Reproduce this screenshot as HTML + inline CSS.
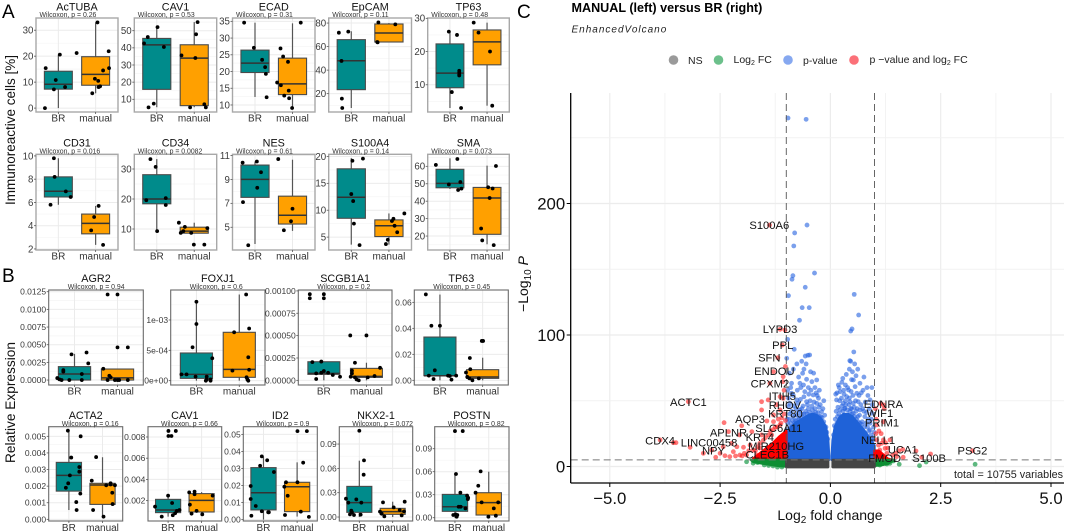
<!DOCTYPE html>
<html lang="en">
<head>
<meta charset="utf-8">
<title>Immunoreactive cells, relative expression and volcano plot</title>
<style>
html,body{margin:0;padding:0;background:#fff}
svg{display:block;font-family:"Liberation Sans",sans-serif}
</style>
</head>
<body>
<svg id="figure" xmlns="http://www.w3.org/2000/svg" width="1065" height="532" viewBox="0 0 1065 532">
  <rect x="0" y="0" width="1065" height="532" fill="#fff"/>
  <text x="2" y="18" font-size="19" fill="#000">A</text>
  <text x="2" y="282" font-size="19" fill="#000">B</text>
  <text x="517" y="18" font-size="19" fill="#000">C</text>
  <text transform="translate(15,130) rotate(-90)" text-anchor="middle" font-size="13.5" fill="#111">Immunoreactive cells [%]</text>
  <text transform="translate(15,402.5) rotate(-90)" text-anchor="middle" font-size="13.7" fill="#111">Relative Expression</text>
  <g id="boxplots"></g>
  <g id="volcano"></g>
  <text x="571.5" y="12" font-size="12.6" font-weight="bold" fill="#000">MANUAL (left) versus BR (right)</text>
  <text x="571.5" y="32.5" font-size="10" font-style="italic" letter-spacing="1" fill="#222">EnhancedVolcano</text>
  <g font-size="10.5" fill="#222">
    <circle cx="673.5" cy="60" r="4.8" fill="#9a9a9a"/>
    <text x="688" y="64">NS</text>
    <circle cx="718.5" cy="60" r="4.8" fill="#6cc08b"/>
    <text x="733.5" y="63">Log<tspan font-size="7" dy="2">2</tspan><tspan dy="-2"> FC</tspan></text>
    <circle cx="788" cy="60" r="4.8" fill="#86a8f0"/>
    <text x="803" y="64">p-value</text>
    <circle cx="854" cy="60" r="4.8" fill="#fb7078"/>
    <text x="869.5" y="63">p −value and log<tspan font-size="7" dy="2">2</tspan><tspan dy="-2"> FC</tspan></text>
  </g>
  <text transform="translate(528,284) rotate(-90)" text-anchor="middle" font-size="14" fill="#111">−Log<tspan font-size="10" dy="3">10</tspan><tspan dy="-3" font-style="italic"> P</tspan></text>
  <text x="830" y="520" text-anchor="middle" font-size="14" fill="#111">Log<tspan font-size="10" dy="3">2</tspan><tspan dy="-3"> fold change</tspan></text>
  <text x="1063" y="478" text-anchor="end" font-size="10.8" fill="#222">total = 10755 variables</text>
</svg>
<script>
/* ---------- box plot data ---------- */
const categories = ['BR', 'manual'];
const panelNames = ['AcTUBA','CAV1','ECAD','EpCAM','TP63','CD31','CD34','NES','S100A4','SMA','AGR2','FOXJ1','SCGB1A1','TP63','ACTA2','CAV1','ID2','NKX2-1','POSTN'];
const pValues = ['0.26','0.53','0.31','0.11','0.48','0.016','0.0082','0.61','0.14','0.073','0.94','0.6','0.2','0.45','0.16','0.66','0.9','0.072','0.82'];
const yDomains = [[-1.5,34.7],[2.6,57.4],[7.9,36],[4.4,84.3],[1.8,30.1],[1.91,10.14],[3,34.9],[3.1,11.1],[2.6,20.4],[12,66.9],
  [-0.0007,0.01274],[-0.0000714,0.001494],[-0.000052,0.00101],[-0.0036,0.0695],[-0.0001,0.00558],[0.00008,0.00897],[-0.0008,0.0545],[-0.0049,0.1114],[-0.0043,0.1187]];
const tickValues = [[0,10,20,30],[10,20,30,40,50],[10,15,20,25,30,35],[20,40,60,80],[10,20,30],[2,4,6,8,10],[10,20,30],[5,7,9,11],[5,10,15,20],[20,30,40,50,60],
  [0,0.0025,0.005,0.0075,0.01,0.0125],[0,0.0005,0.001],[0,0.00025,0.0005,0.00075,0.001],[0,0.02,0.04,0.06],[0,0.001,0.002,0.003,0.004,0.005],[0.002,0.004,0.006,0.008],[0,0.01,0.02,0.03,0.04,0.05],[0,0.03,0.06,0.09],[0,0.03,0.06,0.09]];
const tickLabels = [['0','10','20','30'],['10','20','30','40','50'],['10','15','20','25','30','35'],['20','40','60','80'],['10','20','30'],['2','4','6','8','10'],['10','20','30'],['5','7','9','11'],['5','10','15','20'],['20','30','40','50','60'],
  ['0.0000','0.0025','0.0050','0.0075','0.0100','0.0125'],['0e+00','5e-04','1e-03'],['0.00000','0.00025','0.00050','0.00075','0.00100'],['0.00','0.02','0.04','0.06'],['0.000','0.001','0.002','0.003','0.004','0.005'],['0.002','0.004','0.006','0.008'],['0.00','0.01','0.02','0.03','0.04','0.05'],['0.00','0.03','0.06','0.09'],['0.00','0.03','0.06','0.09']];
/* each box: whisker low, Q1, median, Q3, whisker high */
const boxesBR = [[0,7.3,9.2,14.2,20.6],[5.4,15.8,41.7,45.5,52.5],[12.4,19.7,22.5,26.4,34.6],[7.8,23.4,48,65.9,73],[3,9.1,13.5,22.3,26],
  [5.8,6.47,6.96,8.2,9.8],[9.3,18.4,20,28.1,33.3],[3.6,7.5,9,10.2,10.5],[3.6,8.5,12.4,17.7,19.7],[47,47.7,50.2,58.3,64.6],
  [0,0,0.00085,0.0019,0.0037],[0,0.000038,0.000104,0.000456,0.0013],[0,0.000067,0.000078,0.000208,0.000208],[0,0.0036,0.0035,0.0333,0.066],
  [0.00056,0.0017,0.00265,0.00343,0.0053],[0.00049,0.00087,0.00112,0.00212,0.00247],[0,0.0057,0.0158,0.0305,0.037],[0,0.0058,0.0177,0.0378,0.0695],[0,0.0083,0.0143,0.0304,0.0574]];
const boxesManual = [[5.7,8.8,13,19.8,33],[5.4,6.3,34,41.8,55],[9.1,13.1,16.3,24,34.4],[63.9,63.9,71.6,79.2,80],[3.7,16,22.9,26.5,28.7],
  [2.35,3.3,4.2,5,5.7],[8.6,8.6,9.3,10.6,12.1],[4.7,5.27,6,7.6,10.65],[3.6,5.1,7.1,8.2,9.4],[15.3,21,41.8,47.9,60.4],
  [0,0,0.0003,0.00156,0.00156],[0,0.000055,0.000187,0.000797,0.00142],[0,0.000033,0.000045,0.000134,0.000197],[0,0.0015,0.0026,0.0082,0.0174],
  [0.00016,0.0009,0.00207,0.00217,0.00374],[0.00065,0.00093,0.00203,0.00266,0.0028],[0.0018,0.0047,0.0193,0.0219,0.0336],[0,0.0033,0.0066,0.0107,0.0189],[0,0.0035,0.0196,0.0326,0.06]];
/* each point: horizontal jitter in category units, value */
const pointsBR = [
  [[-.36,0],[-.34,15.4],[.04,20.6],[-.07,10.8],[-.12,7.2],[.18,8.1]],
  [[-.24,46.3],[-.34,42.6],[.02,52.1],[.19,40.5],[-.22,5.3],[-.08,7.5]],
  [[-.29,34.6],[-.03,27.1],[.19,23.5],[.27,21.3],[.29,19.3],[.31,12.3]],
  [[-.33,71.8],[-.08,72.7],[-.26,47.8],[-.25,15.8],[-.24,7.8]],
  [[-.03,26],[.19,25],[.25,14.2],[.25,13.7],[.25,13.1],[.25,12.8],[.05,7.8],[.3,3]],
  [[-.12,9.8],[-.1,8.2],[.2,6.95],[.33,6.47],[-.21,5.8]],
  [[-.17,33.3],[-.03,30.7],[.24,20.3],[-.28,19.6],[.24,18],[.01,9.3]],
  [[-.33,10.4],[.05,10.5],[.16,9.6],[.06,8.3],[-.32,7.1],[-.18,3.5]],
  [[.03,19.2],[.31,19.6],[0,13],[.05,11.7],[.07,7.5],[.22,3.5]],
  [[-.38,60.8],[.2,64.2],[-.03,49.6],[.28,51],[.31,47.2],[.22,46.4]],
  [[-.07,.00363],[.28,.0039],[.32,.00236],[-.26,.0014],[-.26,.0012],[.17,.00085],[-.4,.00028],[-.35,.0001],[-.3,0],[-.12,0],[.17,0]],
  [[0,.0013],[0,.000934],[-.09,.00055],[.37,.00037],[-.35,.000104],[-.23,.000104],[-.02,.000066],[.24,.000066],[.24,.00002],[.33,.00002],[.22,0],[.33,0]],
  [[-.33,.000963],[0,.000963],[-.33,.000918],[0,.000918],[-.27,.000204],[-.06,.00021],[-.18,.000078],[-.06,.000085],[0,.000104],[.1,.000085],[.21,.00006],[.38,.00004],[-.18,.000015]],
  [[-.33,.0661],[-.2,.042],[0,.042],[-.12,.0077],[-.26,.0036],[-.15,.001],[.19,.0036],[.23,.0033],[.27,.0005],[.38,.0036]],
  [[-.03,.00534],[.35,.005],[.07,.00372],[.31,.00315],[.31,.00287],[.03,.00265],[-.02,.00217],[-.09,.0019],[.34,.00155],[.22,.00104],[.23,.00056]],
  [[.01,.00857],[.23,.00857],[.01,.00809],[.1,.00809],[0,.00247],[.12,.00178],[-.39,.00143],[-.19,.00049],[.14,.00062],[.21,.00081],[.26,.00103],[.34,.00112]],
  [[-.05,.0371],[-.1,.0316],[-.38,.0197],[-.38,.0121],[-.23,.008],[-.36,.0023],[-.05,.0049],[.14,.0043],[.11,.0348],[.31,.0279],[.16,.0043]],
  [[0,.1064],[.14,.0699],[.13,.0522],[-.4,.0226],[-.33,.0177],[-.09,.0218],[.06,.0177],[-.24,.0078],[-.22,.0058],[-.28,.0033],[-.16,.0025],[.04,.0029]],
  [[0,.113],[.23,.113],[.03,.057],[.16,.0326],[.36,.0287],[.39,.026],[.38,.0243],[.11,.0143],[.17,.0143],[.31,.0122],[-.05,.0035],[.02,.0043],[.05,.0013],[.07,.0035]]
];
const pointsManual = [
  [[.05,33],[-.51,21.2],[.35,21.9],[.2,14.5],[.36,15.4],[-.02,11.3],[.07,10.5],[.08,8.1],[.12,8.4],[-.09,5.7]],
  [[.09,55],[.05,47.9],[-.34,35.6],[.03,34.1],[-.11,5.3],[.27,7.1],[.31,5.3]],
  [[.22,34.6],[-.32,26.9],[-.25,24.5],[-.12,22.9],[-.41,16.7],[-.31,15.9],[-.1,14.3],[-.22,12.8],[-.09,12],[-.01,9.1]],
  [[-.28,80.6],[.17,78.9],[-.31,63.9],[-.3,63.6]],
  [[-.36,28.7],[-.23,25.7],[.08,20],[.14,3.7]],
  [[.08,5.7],[-.04,4.75],[-.12,3.6],[.2,2.35]],
  [[-.41,12.1],[-.25,10.7],[.35,10.3],[-.29,9.3],[-.36,8.7],[-.08,8.7],[-.01,4.8],[.27,4.8]],
  [[-.38,10.7],[0,6.55],[-.04,5.5],[-.23,4.75]],
  [[.41,9.4],[.12,8.4],[.08,8],[.15,7.1],[.22,5.9],[-.03,4.5],[-.08,3.7]],
  [[.24,60.2],[.03,48],[.15,47.3],[.07,41.8],[-.16,24.3],[-.13,17.5],[.18,14.8]],
  [[-.23,.0121],[0,.0121],[0,.00462],[.24,.00462],[-.33,.0016],[-.19,.0006],[-.16,.0004],[-.23,0],[-.06,0],[0,0],[.04,0],[.24,0]],
  [[.16,.00142],[-.12,.000797],[.23,.00086],[.21,.000385],[-.16,.000165],[.23,.00018],[.17,.000055],[.19,.00002],[.21,0]],
  [[-.38,.000502],[0,.000502],[-.27,.000197],[-.34,.000108],[-.34,.000078],[-.37,.00004],[-.27,.000033],[-.23,.00001],[-.18,0],[.03,.000033],[.19,.000048],[.32,.00014]],
  [[-.02,.0303],[.01,.0303],[-.3,.0172],[-.29,.0085],[-.39,.006],[-.36,.0026],[-.31,.0015],[-.24,0],[-.09,.0015]],
  [[-.19,.00375],[-.32,.00233],[.11,.00205],[.24,.00217],[.24,.0021],[.37,.00205],[.29,.0016],[.3,.00092],[-.28,.00056],[.03,.00016]],
  [[-.37,.00278],[-.21,.00285],[-.21,.0026],[.33,.00247],[-.35,.00162],[-.3,.00077],[-.15,.00103],[.02,.00071]],
  [[.01,.0519],[.29,.0519],[.18,.0334],[-.33,.0219],[-.38,.0193],[.01,.0219],[-.28,.014],[.11,.0047],[-.36,.0027],[.35,.0016]],
  [[-.29,.0181],[.36,.0189],[.03,.0119],[-.38,.0066],[-.33,.0041],[-.25,.0008],[.21,.0086],[.34,.007],[.27,.0021]],
  [[-.24,.0604],[-.31,.0417],[-.39,.0326],[-.21,.02],[.28,.02],[-.01,.0013],[.15,.0122],[.21,.0026]]
];

/* ---------- volcano data: [log2 fold change, -log10 p] ---------- */
const volcanoXTicks = [-5, -2.5, 0, 2.5, 5];
const volcanoXTickLabels = ['−5.0', '−2.5', '0.0', '2.5', '5.0'];
const volcanoYTicks = [0, 100, 200];
const volcanoYTickLabels = ['0', '100', '200'];
const fcCutoff = 1;
const pCutoff = 5;
const blueDenseLeft = [[-1,24],[-.9,30],[-.8,33],[-.7,35],[-.6,37],[-.5,39],[-.4,40],[-.3,39],[-.2,36],[-.1,30],[-.05,20],[-.03,8]];
const blueDenseRight = [[.03,8],[.05,20],[.1,30],[.2,37],[.3,40],[.4,40],[.5,38],[.6,34],[.7,30],[.8,26],[.9,21],[1,16]];
const redDenseLeft = [[-1.75,6],[-1.6,10],[-1.45,14],[-1.3,18],[-1.15,23],[-1,27]];
const redDenseRight = [[1,12],[1.1,12],[1.2,9],[1.3,6],[1.4,5]];
const greenDenseLeft = [[-1.8,5],[-1.75,3.5],[-1.5,2],[-1.2,.5],[-1,0]];
const greenDenseRight = [[1,.5],[1.15,1],[1.3,2],[1.4,4],[1.45,5]];
const greyDenseLeft = [[-1,-.5],[-.05,-.5]];
const greyDenseRight = [[.05,-.5],[1,-.5]];
const bluePoints = [[-.96,265],[-.55,264],[-.53,183.6],[-.81,177.6],[-.83,167.7],[-.36,147.1],[-.85,145.1],[-.87,142.4],[-.57,136.3],[.54,130.9],[-.95,129.9],[-.64,120.8],[-.48,120.8],[.64,115.2],[-.7,111.2],[.49,104.6],[.46,103],[-.97,96.7],[-.82,89.1],[.53,87.1],[-.47,84.8],[-.51,84.6],[-.57,84],[-.99,82.3],[.44,80.5],
 [-.55,78],[-.76,78],[.46,80],[.5,72],[-.63,70.9],[.18,62],[-.88,63.3],[-.69,63.3],[-.54,66.3],[-.42,64.5],[-.31,65.8],[.52,65.8],[.22,56.9],[.41,58.2],[.6,55.7],[-.58,56.9],[-.39,54.4],[-.88,55.7],[-.76,50.6],[-.31,48],[-.54,49.3],[.14,50.6],[.29,48],[.52,48],[.63,49.3],[-.95,45.5],[-.69,43],[-.2,41.7],[.22,43],[.44,41.7],
 [.56,60.7],[.67,63.3],[.9,50.6],[.44,49.3],[.33,44.3],[.67,43],[.78,37.9],[.52,40.5],[.9,32.9],[.67,32.9],[.9,27.8],[.94,40.5],[.37,53.1],
 [-.98,36],[-.92,40],[-.85,38],[-.78,44],[-.72,38],[-.62,46],[-.64,40],[-.5,44],[-.46,50],[-.42,46],[-.35,44],[-.26,45],[-.22,38],[-.15,34],[-.12,26],[-.9,33],[-.8,35],[.12,30],[.16,38],[.26,46],[.34,50],[.48,44],[.58,42],[.62,38],[.72,34],[.76,42],[.84,30],[.86,36],[.96,22],[.98,30],[.3,58],[.26,64],[-.98,28],[-.6,40],
 [-.97,33],[-.94,36],[-.91,30],[-.88,42],[-.86,35],[-.83,46],[-.81,33],[-.79,39],[-.77,35],[-.74,48],[-.73,41],[-.71,36],[-.68,51],[-.66,37],[-.65,44],[-.6,53],[-.59,37],[-.56,42],[-.53,40],[-.52,47],[-.49,55],[-.47,41],[-.45,39],[-.44,58],[-.41,43],[-.38,40],[-.37,49],[-.33,41],[-.32,56],[-.28,41],[-.27,52],[-.25,38],[-.23,47],[-.19,37],[-.17,44],[-.14,31],[-.13,39],[-.1,30],[-.08,26],[-.06,21],[-.95,52],[-.9,60],[-.84,54],[-.75,58],[-.67,60],[-.61,62],[-.5,60],[-.35,60],[-.25,58],[-.92,48],[-.97,58],[-.72,68],[-.45,72],[-.6,74],[-.38,71],[-.84,74],[-.65,80],[-.93,71],[-.3,54],[-.15,50],
 [.07,24],[.09,31],[.11,36],[.13,42],[.15,33],[.17,45],[.19,40],[.21,50],[.24,38],[.25,52],[.28,42],[.31,55],[.32,44],[.35,47],[.38,43],[.39,60],[.42,47],[.43,52],[.46,44],[.47,57],[.49,40],[.51,54],[.54,45],[.55,38],[.57,50],[.59,36],[.61,44],[.63,34],[.65,54],[.66,39],[.69,47],[.71,32],[.73,44],[.74,58],[.77,30],[.79,49],[.81,33],[.82,41],[.85,54],[.87,27],[.88,44],[.92,24],[.93,36],[.95,47],[.97,20],[.99,26],[.15,56],[.28,67],[.36,70],[.43,74],[.58,69],[.62,74],[.7,56],[.76,68],[.83,60],[.94,60],[.55,78],[.34,62],[.12,55],[.2,60],[.48,66]];
const redPoints = [[-1.38,183.6],[-1.14,104.3],[-1.03,103.8],[-1.09,92.4],[-1.19,82.7],[-1.29,72.1],[-1.07,68.3],[-1.37,63.3],[-1.08,64.5],[-3.22,49.3],[-1.56,49.3],[-1.41,50.6],[-1.14,53.1],[-1.07,51.9],[-1.56,43],[-1.14,43],[-1.29,39.2],[-2.01,31],[-2.41,33.3],[-1.44,34.6],[-1.29,34.1],[-1.14,31.6],[-1.78,26.5],[-2.31,26.5],[-2.06,24],[-1.56,24],[-1.33,24],[-3.56,18.1],[-3.5,18.1],[-3.86,20.2],[-3.18,14.6],[-2.88,10],[-2.69,12.5],[-2.43,15],[-2.24,17.6],[-2.2,11.3],[-1.97,14.6],[-2.39,8.2],[-2.05,8.7],[-1.82,16.3],[-1.6,17.6],[-1.75,12.5],[-1.67,8.7],[-2.12,15],[-1.9,8.7],[-2.28,7.5],
 [-1.02,35],[-1.05,40],[-1.1,37],[-1.12,33],[-1.18,36],[-1.2,30],[-1.25,30],[-1.3,28],[-1.36,27],[-1.4,24],[-1.47,22],[-1.52,20],[-1.6,14],[-1.65,15],[-1.7,12],[-1.85,12],[-1.95,10],[-2,8],[-2.15,8],[-2.5,10],[-2.6,7],[-1.22,47],[-1.05,58],[-1.02,76],
 [1.2,46.8],[1.14,48],[1.22,44],[1.2,34],[1.05,31.6],[1.05,20.2],[1.2,20.2],[1.35,20.2],[1.09,16.3],[1.16,17.6],[1.12,12.5],[1.24,13.8],[1.64,13],[1.94,11.8],[1.65,7],[2.07,7],[2.27,9.5],[3.22,12],[1.41,8.7],[1.28,10],[1.12,8],[1.5,7.5],
 [1.03,25],[1.1,27],[1.04,36],[1.15,25],[1.25,18],[1.3,14],[1.48,10],[1.55,12],[1.02,44]];
const greenPoints = [[1.56,1.7],[2.02,.6],[2.17,3.4],[3.28,1.7],[1.35,2.4],[1.43,4.2],[1.2,2.4],[1.12,1.1],[1.28,1.9],[-1.75,2.5],[-1.5,1.2],[-1.3,.4],[-1.9,3.6],[-1.65,3],[-1.4,.8],[-1.2,-.5],[-1.1,-.4]];
const geneLabels = ['S100A6','LYPD3','PPL','SFN','ENDOU','CPXM2','ITIH5','RHOV','KRT80','AQP3','SLC6A11','APLNR','KRT4','CDX4','LINC00458','MIR210HG','NPY','CLEC1B','ACTC1','EDNRA','WIF1','PRIM1','NELL1','UCA1','FMOD','S100B','PSG2'];
const geneLabelFc = [-1.385,-1.14,-1.08,-1.385,-1.27,-1.37,-1.09,-1.03,-1.02,-1.82,-1.17,-2.31,-1.6,-3.86,-2.75,-1.23,-2.65,-1.43,-3.22,1.2,1.12,1.17,1.08,1.64,1.23,2.24,3.22];
const geneLabelP = [183.7,104.5,92.4,82.9,72.6,63.3,53.7,46.7,40.3,36.1,29.1,25.7,22.6,19.6,18.1,15.6,12.1,9,49,47.7,40.7,33.6,20.2,13,6.6,6.6,12];

/* ---------- layout (separate from data) ---------- */
const rowA1 = [18, 112], rowA2 = [154.3, 250], rowB1 = [290, 385], rowB2 = [426.7, 521];
const panelFrames = [
  [36,118,rowA1],[134.3,216.7,rowA1],[232.5,315,rowA1],[328.7,411.5,rowA1],[427.7,509.3,rowA1],
  [36,118,rowA2],[134.3,216.7,rowA2],[232.5,315,rowA2],[328.7,411.5,rowA2],[427.7,509.3,rowA2],
  [48.7,143.3,rowB1],[170.7,265,rowB1],[298.3,392,rowB1],[414.3,508.3,rowB1],
  [48.7,122.7,rowB2],[148,221.7,rowB2],[243.3,317.3,rowB2],[339.3,412.7,rowB2],[434.7,509,rowB2]
];
const SVGNS = 'http://www.w3.org/2000/svg';
function add(parent, tag, attrs, name) {
  const el = document.createElementNS(SVGNS, tag);
  for (const k in attrs) el.setAttribute(k, attrs[k]);
  
  
  parent.appendChild(el);
  return el;
}
function slug(s) { return s.toLowerCase().replace(/[^a-z0-9]+/g, '-'); }

function drawPanel(root, i) {
  const [x0, x1, row] = panelFrames[i];
  const y0 = row[0], y1 = row[1];
  const isB = i >= 10;
  const dom = yDomains[i];
  const id = slug(panelNames[i]) + '-' + i;
  const xs = c => x0 + (c + 0.6) / 2.2 * (x1 - x0);
  const ys = v => y1 - (v - dom[0]) / (dom[1] - dom[0]) * (y1 - y0);
  const g = add(root, 'g', {}, 'boxplot-' + id);
  add(g, 'rect', {x: x0, y: y0, width: x1 - x0, height: y1 - y0, fill: '#fff'}, 'plot-area');
  const ticks = tickValues[i];
  const step = ticks[1] - ticks[0];
  for (let t = ticks[0] - step / 2; t <= dom[1]; t += step) {
    if (t >= dom[0]) add(g, 'line', {x1: x0, x2: x1, y1: ys(t), y2: ys(t), stroke: '#f5f5f5', 'stroke-width': 0.7}, 'minor-gridline');
  }
  ticks.forEach(t => add(g, 'line', {x1: x0, x2: x1, y1: ys(t), y2: ys(t), stroke: '#ebebeb', 'stroke-width': 1}, 'y-gridline'));
  categories.forEach((c, k) => add(g, 'line', {x1: xs(k), x2: xs(k), y1: y0, y2: y1, stroke: '#ebebeb', 'stroke-width': 1}, 'x-gridline'));
  const boxes = [boxesBR[i], boxesManual[i]];
  const fills = ['#008b8b', '#ffa000'];
  boxes.forEach((b, k) => {
    const cx = xs(k), half = 0.375 / 2.2 * (x1 - x0);
    add(g, 'line', {x1: cx, x2: cx, y1: ys(b[0]), y2: ys(b[4]), stroke: '#555', 'stroke-width': 1.2}, 'whisker-' + categories[k]);
    add(g, 'rect', {x: cx - half, y: ys(b[3]), width: half * 2, height: Math.max(0.5, ys(b[1]) - ys(b[3])), fill: fills[k], stroke: '#4a4a4a', 'stroke-width': 1.1}, 'box-' + categories[k]);
    add(g, 'line', {x1: cx - half, x2: cx + half, y1: ys(b[2]), y2: ys(b[2]), stroke: '#333', 'stroke-width': 1.5}, 'median-' + categories[k]);
  });
  [pointsBR[i], pointsManual[i]].forEach((pts, k) => pts.forEach(p => {
    add(g, 'circle', {cx: xs(k + p[0]), cy: ys(p[1]), r: 1.9, fill: '#000'}, 'point-' + categories[k]);
  }));
  add(g, 'rect', {x: x0, y: y0, width: x1 - x0, height: y1 - y0, fill: 'none', stroke: isB ? '#6a6a6a' : '#a8a8a8', 'stroke-width': isB ? 1.1 : 1.4}, 'panel-border');
  ticks.forEach((t, n) => {
    add(g, 'line', {x1: x0 - 2, x2: x0, y1: ys(t), y2: ys(t), stroke: '#555', 'stroke-width': 0.8}, 'y-tick');
    const lab = add(g, 'text', {x: x0 - 2.6, y: ys(t) + (isB ? 3 : 3.4), 'text-anchor': 'end', 'font-size': isB ? 8.5 : 9.7, fill: '#3a3a3a'}, 'y-tick-label');
    lab.textContent = tickLabels[i][n];
  });
  categories.forEach((c, k) => {
    add(g, 'line', {x1: xs(k), x2: xs(k), y1: y1, y2: y1 + 2, stroke: '#555', 'stroke-width': 0.8}, 'x-tick');
    const lab = add(g, 'text', {x: xs(k), y: y1 + (i >= 14 ? 10 : 9.5), 'text-anchor': 'middle', 'font-size': 10, fill: '#333'}, 'x-tick-label');
    lab.textContent = c;
  });
  const title = add(g, 'text', {x: (x0 + x1) / 2, y: i < 5 ? 10.5 : y0 - 7.8, 'text-anchor': 'middle', 'font-size': 10.8, fill: '#111'}, 'panel-title');
  title.textContent = panelNames[i];
  const pOffset = i < 10 ? 3.5 : (i < 14 ? 19 : 13);
  const pl = add(g, 'text', {x: x0 + pOffset, y: y0 - 0.8, 'font-size': 6.9, fill: '#333'}, 'wilcoxon-label');
  pl.textContent = 'Wilcoxon, p = ' + pValues[i];
}
const boxRoot = document.getElementById('boxplots');
panelNames.forEach((n, i) => drawPanel(boxRoot, i));

/* ---------- volcano ---------- */
(function () {
  const v = document.getElementById('volcano');
  const left = 570.7, right = 1064, top = 93, bottom = 483;
  const xV = fc => 830.4 + fc * 44.12;
  const yV = p => 466.5 - p * 1.315;
  /* grid */
  volcanoXTicks.forEach((t, i) => {
    add(v, 'line', {x1: xV(t), x2: xV(t), y1: top, y2: bottom, stroke: '#ececec', 'stroke-width': 1.2}, 'x-gridline');
    if (i < volcanoXTicks.length - 1) {
      const m = (t + volcanoXTicks[i + 1]) / 2;
      add(v, 'line', {x1: xV(m), x2: xV(m), y1: top, y2: bottom, stroke: '#f2f2f2', 'stroke-width': 0.9}, 'x-minor-gridline');
    }
  });
  volcanoYTicks.forEach((t, i) => {
    add(v, 'line', {x1: left, x2: right, y1: yV(t), y2: yV(t), stroke: '#ececec', 'stroke-width': 1.2}, 'y-gridline');
    add(v, 'line', {x1: left, x2: right, y1: yV(t + 50), y2: yV(t + 50), stroke: '#f2f2f2', 'stroke-width': 0.9}, 'y-minor-gridline');
  });
  /* dense regions drawn from envelope arrays */
  function area(env, floor, color, name) {
    const first = env[0], last = env[env.length - 1];
    const pts = env.map(p => xV(p[0]) + ',' + yV(p[1]));
    pts.push(xV(last[0]) + ',' + yV(floor));
    pts.push(xV(first[0]) + ',' + yV(floor));
    add(v, 'polygon', {points: pts.join(' '), fill: color, stroke: color, 'stroke-width': 2.4, 'stroke-linejoin': 'round'}, name);
  }
  function scatter(pts, color, opacity, name) {
    pts.forEach(p => add(v, 'circle', {cx: xV(p[0]), cy: yV(p[1]), r: 2.4, fill: color, 'fill-opacity': opacity}, name));
  }
  scatter(bluePoints, '#2a66e0', 0.62, 'p-value-point');
  scatter(redPoints, '#ff1c1c', 0.6, 'p-and-log2fc-point');
  scatter(greenPoints, '#1a9a48', 0.7, 'log2fc-point');
  area(blueDenseLeft, pCutoff, '#1f62d8', 'p-value-dense-left');
  area(blueDenseRight, pCutoff, '#1f62d8', 'p-value-dense-right');
  area(redDenseLeft, pCutoff, '#ff0000', 'p-and-log2fc-dense-left');
  area(redDenseRight, pCutoff, '#ff0000', 'p-and-log2fc-dense-right');
  area(greenDenseLeft, pCutoff, '#0d8f33', 'log2fc-dense-left');
  area(greenDenseRight, pCutoff, '#0d8f33', 'log2fc-dense-right');
  area(greyDenseLeft, pCutoff, '#454545', 'ns-dense-left');
  area(greyDenseRight, pCutoff, '#454545', 'ns-dense-right');
  /* cutoffs */
  [-fcCutoff, fcCutoff].forEach(c => add(v, 'line', {x1: xV(c), x2: xV(c), y1: top, y2: bottom, stroke: '#555', 'stroke-width': 0.9, 'stroke-dasharray': '7 4'}, 'fold-change-cutoff'));
  add(v, 'line', {x1: left, x2: right, y1: yV(pCutoff), y2: yV(pCutoff), stroke: '#777', 'stroke-width': 1, 'stroke-dasharray': '7 4'}, 'p-value-cutoff');
  /* axes */
  add(v, 'line', {x1: left, x2: left, y1: top, y2: bottom, stroke: '#000', 'stroke-width': 1.3}, 'y-axis-line');
  add(v, 'line', {x1: left, x2: right, y1: bottom, y2: bottom, stroke: '#000', 'stroke-width': 1.3}, 'x-axis-line');
  volcanoYTicks.forEach((t, i) => {
    add(v, 'line', {x1: left - 4, x2: left, y1: yV(t), y2: yV(t), stroke: '#000', 'stroke-width': 1}, 'y-tick');
    const lab = add(v, 'text', {x: left - 5.5, y: yV(t) + 6, 'text-anchor': 'end', 'font-size': 16.8, fill: '#111'}, 'y-tick-label');
    lab.textContent = volcanoYTickLabels[i];
  });
  volcanoXTicks.forEach((t, i) => {
    add(v, 'line', {x1: xV(t), x2: xV(t), y1: bottom, y2: bottom + 4, stroke: '#000', 'stroke-width': 1}, 'x-tick');
    const lab = add(v, 'text', {x: xV(t), y: 504, 'text-anchor': 'middle', 'font-size': 16.8, fill: '#111'}, 'x-tick-label');
    lab.textContent = volcanoXTickLabels[i];
  });
  /* gene labels */
  geneLabels.forEach((g, i) => {
    const lab = add(v, 'text', {x: xV(geneLabelFc[i]), y: yV(geneLabelP[i]) + 4, 'text-anchor': 'middle', 'font-size': 11.2, fill: '#111'}, 'gene-label-' + slug(g));
    lab.textContent = g;
  });
})();
</script>
</body>
</html>
